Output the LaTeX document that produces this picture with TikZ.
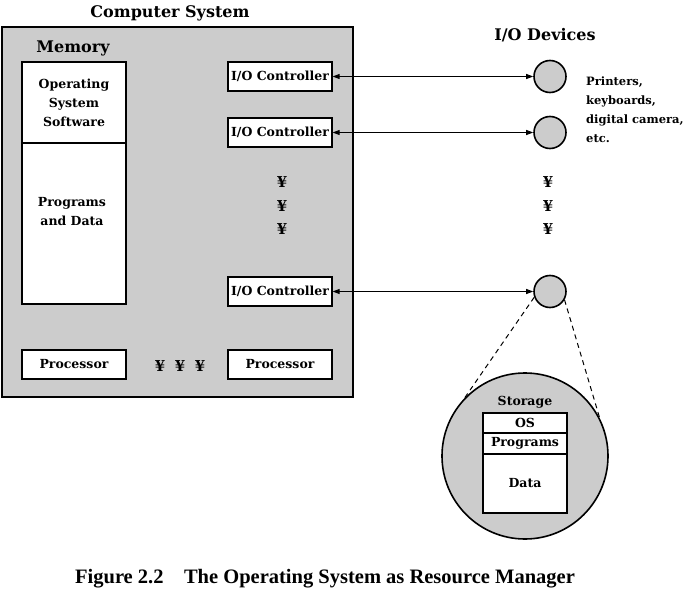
\documentclass[tikz,border=0pt]{standalone}
\usepackage{fontspec}
\setmainfont{DejaVu Serif}
\newfontfamily\capfont{Liberation Serif}
\usetikzlibrary{arrows.meta,positioning}

\tikzset{
  heading/.style={font=\bfseries\fontsize{16}{18}\selectfont},
  lbl/.style={font=\bfseries\fontsize{12.5}{19}\selectfont, align=center, inner sep=0pt},
  dots/.style={lbl, font=\bfseries\fontsize{15}{18}\selectfont},
  box/.style={draw, line width=1.2pt, fill=white, inner sep=0pt, lbl},
  unit/.style={box, minimum width=104pt, minimum height=29pt},
  dev/.style={circle, draw, line width=1.6pt, fill=gray!40, minimum size=32pt, inner sep=0pt},
  link/.style={line width=0.9pt, {Triangle[length=7pt,width=5pt]}-{Triangle[length=7pt,width=5pt]}},
  zoomline/.style={line width=1pt, dash pattern=on 5pt off 4pt},
}

\begin{document}
\begin{tikzpicture}[x=1pt,y=-1pt]
    \useasboundingbox (0,0) rectangle (688,594);

    % Computer system
    \node[heading] (cstitle) at (170,13) {Computer System};
    \node[draw, line width=2pt, fill=gray!40, minimum width=351pt, minimum height=370pt] (sys) at (177.5,212) {};
    \node[heading] (memtitle) at (73,48) {Memory};

    % Memory
    \node[box, minimum width=104pt, minimum height=81pt] (osmem) at (74,102.5) {Operating\\System\\Software};
    \node[box, minimum width=104pt, minimum height=161pt] (pdmem) at (74,223.5) {};
    \node[lbl] (pdtext) at (72,212) {Programs\\and Data};

    % Controllers and devices
    \foreach \y/\n in {76.5/1, 132.5/2, 291.5/3} {
        \node[unit] (ctl\n) at (280,\y) {I/O Controller};
        \node[dev] (dev\n) at (550,\y) {};
        \draw[link] (ctl\n.east) -- (dev\n.west);
    }
    \foreach \y [count=\i] in {182,206,229} {
        \node[dots] (ya\i) at (282,\y) {¥};
        \node[dots] (yb\i) at (548,\y) {¥};
    }
    \node[heading] (iotitle) at (545,35) {I/O Devices};
    \node[lbl, font=\bfseries\fontsize{11.5}{19}\selectfont, align=left, anchor=west] (devnote) at (586,109.5) {Printers,\\keyboards,\\digital camera,\\etc.};

    % Processors
    \node[unit] (cpu1) at (74,364.5) {Processor};
    \node[unit] (cpu2) at (280,364.5) {Processor};
    \foreach \x [count=\i] in {160,180,200}
        \node[dots] (yc\i) at (\x,366) {¥};

    % Storage
    \node[dev, minimum size=166pt] (store) at (525,456) {};
    \draw[zoomline] (dev3.200) -- (store.136);
    \draw[zoomline] (dev3.-30) -- (store.27);
    \node[lbl] (sttitle) at (525,402) {Storage};
    \node[box, minimum width=84pt, minimum height=20pt] (sos) at (525,423) {OS};
    \node[box, minimum width=84pt, minimum height=21pt] (sprog) at (525,443.5) {Programs};
    \node[box, minimum width=84pt, minimum height=59pt] (sdata) at (525,483.5) {Data};

    % Caption
    \node[font=\capfont\bfseries\fontsize{20.5}{24}\selectfont] (caption) at (325,579) {Figure 2.2\quad The Operating System as Resource Manager};
\end{tikzpicture}
\end{document}
